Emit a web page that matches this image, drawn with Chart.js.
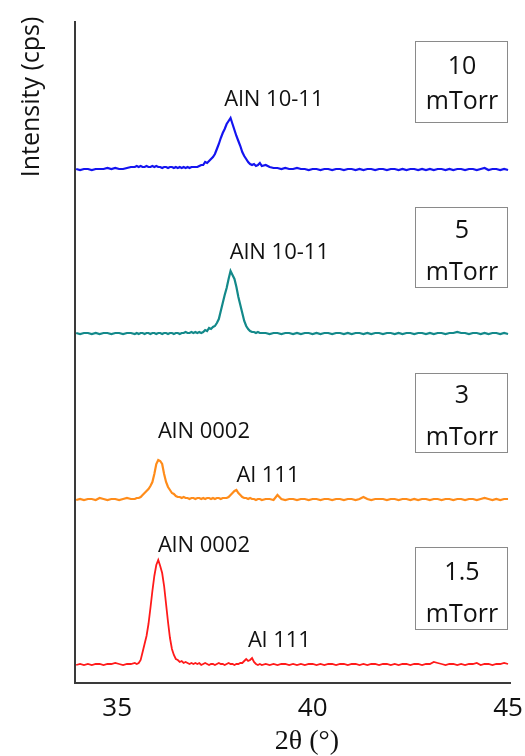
<!DOCTYPE html>
<html>
<head>
<meta charset="utf-8">
<script src="https://cdn.jsdelivr.net/npm/chart.js@4.4.1/dist/chart.umd.min.js"></script>
<style>
  body { margin: 0; background: #fff; }
  canvas { display: block; }
</style>
</head>
<body>
<canvas id="xrd" width="525" height="756"></canvas>
<script>
// 2theta positions (degrees), finer steps around the peaks
const twoTheta = [
  33.95, 34.05, 34.15, 34.25, 34.35, 34.45, 34.55, 34.65, 34.75, 34.85, 34.95, 35.05, 35.15, 35.25, 35.35, 35.45,
  35.50, 35.55, 35.60, 35.65, 35.70, 35.75, 35.80, 35.85, 35.90, 35.95,
  36.00, 36.05, 36.10, 36.15, 36.20, 36.25, 36.30, 36.35, 36.40, 36.45,
  36.50, 36.55, 36.60, 36.65, 36.70, 36.75, 36.80, 36.85, 36.90, 36.95,
  37.00, 37.05, 37.10, 37.15, 37.20, 37.25, 37.30, 37.35, 37.40, 37.45,
  37.50, 37.55, 37.60, 37.65, 37.70, 37.75, 37.80, 37.85, 37.90, 37.95,
  38.00, 38.05, 38.10, 38.15, 38.20, 38.25, 38.30, 38.35, 38.40, 38.45,
  38.50, 38.55, 38.60, 38.65, 38.70,
  38.8, 38.9, 39.0, 39.1, 39.2, 39.3, 39.4, 39.5, 39.6, 39.7,
  39.8, 39.9, 40.0, 40.1, 40.2, 40.3, 40.4, 40.5, 40.6, 40.7,
  40.8, 40.9, 41.0, 41.1, 41.2, 41.3, 41.4, 41.5, 41.6, 41.7,
  41.8, 41.9, 42.0, 42.1, 42.2, 42.3, 42.4, 42.5, 42.6, 42.7,
  42.8, 42.9, 43.0, 43.1, 43.2, 43.3, 43.4, 43.5, 43.6, 43.7,
  43.8, 43.9, 44.0, 44.1, 44.2, 44.3, 44.4, 44.5, 44.6, 44.7,
  44.8, 44.9, 45.0
];

// intensities above each pattern's own baseline (arb. units)
const int10mTorr = [
  1, 0, 1, 1, 0, 1, 1, 1, 2, 1, 2, 1, 1, 2, 3, 3,
  4, 3, 4, 3, 3, 4, 3, 3, 4, 3,
  4, 3, 3, 2, 3, 3, 2, 3, 3, 2,
  3, 2, 3, 2, 3, 2, 3, 2, 3, 3,
  3, 3, 4, 5, 5, 8, 7, 9, 11, 13,
  16, 21, 26, 32, 37, 41, 46, 49, 52, 46,
  40, 34, 29, 24, 18, 14, 11, 8, 6, 5,
  6, 4, 5, 7, 4,
  5, 3, 2, 2, 1, 2, 1, 1, 2, 1,
  1, 0, 1, 1, 0, 1, 1, 0, 1, 1,
  0, 1, 1, 0, 1, 0, 1, 1, 0, 1,
  1, 0, 1, 1, 0, 1, 0, 1, 1, 0,
  1, 0, 1, 0, 1, 1, 0, 1, 0, 1,
  1, 0, 1, 1, 0, 1, 2, 0, 1, 1,
  0, 1, 0
];
const int5mTorr = [
  2, 1, 2, 2, 1, 2, 1, 2, 2, 1, 2, 2, 1, 2, 2, 1,
  2, 1, 2, 2, 1, 2, 2, 1, 2, 2,
  1, 2, 2, 1, 2, 2, 1, 2, 2, 1,
  2, 2, 1, 2, 2, 3, 2, 2, 3, 2,
  3, 2, 3, 2, 3, 5, 4, 7, 6, 8,
  9, 12, 16, 24, 32, 40, 47, 56, 64, 60,
  56, 48, 38, 30, 22, 14, 9, 6, 4, 3,
  3, 2, 3, 2, 2,
  2, 1, 2, 2, 1, 2, 2, 1, 2, 1,
  2, 2, 1, 2, 1, 2, 2, 1, 2, 2,
  1, 2, 1, 2, 2, 1, 2, 1, 2, 2,
  1, 2, 2, 1, 2, 1, 2, 2, 1, 2,
  2, 1, 2, 1, 2, 2, 1, 2, 2, 3,
  2, 2, 1, 2, 2, 1, 2, 1, 2, 2,
  1, 2, 1
];
const int3mTorr = [
  1, 2, 1, 2, 2, 1, 3, 2, 1, 2, 2, 1, 2, 3, 2, 2,
  3, 3, 4, 6, 8, 10, 12, 15, 19, 27,
  37, 41, 40, 37, 27, 19, 14, 11, 8, 7,
  5, 4, 4, 3, 4, 3, 3, 2, 3, 3,
  2, 3, 3, 2, 3, 2, 3, 3, 2, 3,
  2, 3, 3, 2, 3, 3, 3, 4, 6, 8,
  10, 11, 8, 6, 4, 3, 3, 2, 3, 2,
  2, 1, 2, 2, 1,
  2, 2, 1, 6, 2, 1, 2, 2, 1, 2,
  2, 1, 2, 2, 1, 2, 2, 1, 2, 2,
  1, 2, 2, 1, 2, 4, 2, 1, 2, 2,
  2, 1, 2, 2, 1, 2, 2, 1, 2, 1,
  2, 2, 1, 2, 2, 1, 2, 2, 1, 2,
  2, 1, 2, 2, 1, 2, 3, 2, 1, 2,
  1, 2, 2
];
const int15mTorr = [
  1, 2, 1, 2, 1, 2, 2, 1, 2, 2, 3, 2, 1, 2, 2, 3,
  2, 3, 6, 14, 22, 30, 42, 58, 75, 90,
  101, 106, 100, 93, 80, 62, 44, 28, 17, 11,
  7, 6, 4, 5, 3, 4, 3, 2, 3, 2,
  3, 2, 3, 1, 2, 3, 2, 1, 2, 2,
  1, 2, 3, 2, 2, 1, 2, 3, 2, 2,
  1, 2, 2, 3, 3, 5, 7, 5, 6, 8,
  4, 2, 1, 2, 1,
  2, 1, 2, 1, 2, 2, 1, 2, 1, 2,
  1, 2, 2, 1, 2, 1, 2, 2, 1, 2,
  2, 1, 2, 2, 1, 2, 1, 2, 2, 1,
  2, 2, 1, 2, 1, 2, 2, 1, 2, 2,
  1, 2, 2, 4, 3, 2, 1, 2, 2, 1,
  2, 1, 2, 2, 3, 1, 2, 2, 1, 2,
  2, 3, 2
];

const pressures = ['10', '5', '3', '1.5'];
const seriesList = [int10mTorr, int5mTorr, int3mTorr, int15mTorr];
const stackOffsets = [513, 348, 182, 17];
const lineColors = ['#1414f0', '#13898a', '#ff8c1a', '#ff1a1a'];
const xTicks = [35, 40, 45];

// peak labels: [text, 2theta, y] (y in stacked units)
const peakLabels = [
  ['AlN 10-11', 39.01, 577],
  ['AlN 10-11', 39.15, 424],
  ['AlN 0002', 37.22, 245],
  ['Al 111', 38.86, 201],
  ['AlN 0002', 37.22, 131],
  ['Al 111', 39.15, 36]
];
// pressure boxes: [top, bottom, first line baseline, second line baseline]
const boxRows = [
  [642, 561, 609, 574],
  [476, 396, 445, 403],
  [310, 231, 280, 238],
  [136, 54, 103, 61]
];

function buildDatasets() {
  return seriesList.map((vals, i) => ({
    label: pressures[i] + ' mTorr',
    data: vals.map((v, k) => ({ x: twoTheta[k], y: v + stackOffsets[i] })),
    borderColor: lineColors[i],
    borderWidth: i === 3 ? 1.8 : 2.2,
    pointRadius: 0,
    tension: 0,
    fill: false
  }));
}

const textPlugin = {
  id: 'textPlugin',
  afterDatasetsDraw(chart) {
    const ctx = chart.ctx;
    const xs = chart.scales.x, ys = chart.scales.y;
    ctx.save();
    ctx.fillStyle = '#111';
    ctx.textAlign = 'center';
    ctx.textBaseline = 'alphabetic';
    ctx.font = '22px "Open Sans"';
    peakLabels.forEach(([t, x, y]) => {
      ctx.fillText(t, xs.getPixelForValue(x), ys.getPixelForValue(y));
    });

    let bx0 = xs.getPixelForValue(42.62), bx1 = xs.getPixelForValue(44.98);
    let cx = xs.getPixelForValue(43.82);
    boxRows.forEach(([top, bottom, b1, b2], i) => {
      let y0 = ys.getPixelForValue(top), y1 = ys.getPixelForValue(bottom);
      ctx.fillStyle = '#fff';
      ctx.fillRect(bx0, y0, bx1 - bx0, y1 - y0);
      ctx.strokeStyle = '#8a8a8a';
      ctx.lineWidth = 1;
      ctx.strokeRect(Math.round(bx0) + 0.5, Math.round(y0) + 0.5, Math.round(bx1 - bx0), Math.round(y1 - y0));
      ctx.fillStyle = '#111';
      ctx.font = '25px "Open Sans"';
      ctx.fillText(pressures[i], cx, ys.getPixelForValue(b1));
      ctx.fillText('mTorr', cx, ys.getPixelForValue(b2));
    });

    // axis titles
    ctx.font = '25px "Open Sans"';
    ctx.save();
    ctx.translate(39, 97);
    ctx.rotate(-Math.PI / 2);
    ctx.fillText('Intensity (cps)', 0, 0);
    ctx.restore();
    ctx.font = '28px "Liberation Serif"';
    ctx.fillText('2\u03b8 (\u00b0)', 307, 749);
    ctx.restore();
  }
};

new Chart(document.getElementById('xrd'), {
  type: 'line',
  data: { datasets: buildDatasets() },
  options: {
    responsive: false,
    devicePixelRatio: 1,
    animation: false,
    layout: { padding: { left: 0, right: 15, top: 22, bottom: 0 } },
    plugins: { legend: { display: false }, tooltip: { enabled: false } },
    scales: {
      x: {
        type: 'linear',
        min: 33.92,
        max: 45.05,
        grid: { display: false },
        border: { display: true, color: '#3a3a3a', width: 2 },
        afterBuildTicks: (scale) => { scale.ticks = xTicks.map(v => ({ value: v })); },
        afterFit: (scale) => { scale.height = 73; },
        ticks: { color: '#111', font: { family: 'Open Sans', size: 26 }, padding: 2, maxRotation: 0 }
      },
      y: {
        min: 0,
        max: 661,
        grid: { display: false },
        border: { display: true, color: '#3a3a3a', width: 2 },
        ticks: { display: false },
        afterFit: (scale) => { scale.width = 75; }
      }
    }
  },
  plugins: [textPlugin]
});
</script>
</body>
</html>
